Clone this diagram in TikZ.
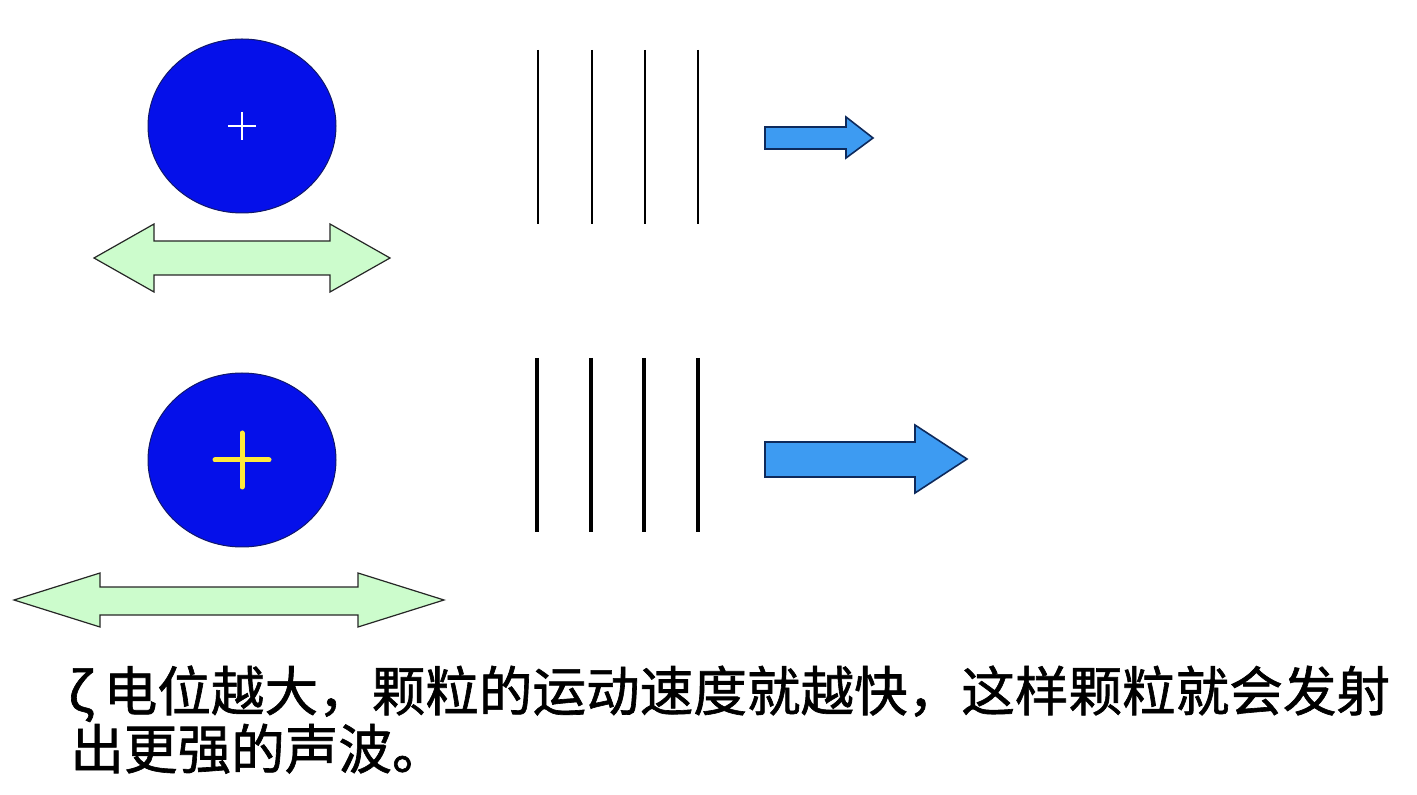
\documentclass[tikz,border=0pt]{standalone}
\usepackage{fontspec}
\usepackage{xcolor}
\usetikzlibrary{shapes.geometric}
\newfontfamily\cjk[FakeBold=1.2]{Noto Sans CJK SC}
\definecolor{pblue}{HTML}{0510EA}
\definecolor{pedge}{HTML}{10186A}
\definecolor{wblue}{HTML}{3D9BF2}
\definecolor{wedge}{HTML}{0E2A5C}
\definecolor{mgreen}{HTML}{CCFCCC}
\definecolor{pyellow}{HTML}{FFEA3A}

\begin{document}
\begin{tikzpicture}[x=0.5pt, y=-0.5pt,
  particle/.style={ellipse, draw=pedge, fill=pblue, line width=0.5pt, inner sep=0pt, minimum width=94pt, minimum height=87pt},
  motion/.style={draw=black!85, fill=mgreen, line width=0.6pt, line join=miter},
  wave/.style={draw=wedge, fill=wblue, line width=0.8pt, line join=miter},
  front/.style={black, line width=0.6pt},
  strong/.style={black, line width=2.4pt},
  caption/.style={anchor=base west, inner sep=0pt, font=\cjk\fontsize{26.8}{28}\selectfont},
]
  \useasboundingbox (0,0) rectangle (1417,795);

  % weak case
  \node[particle] (p1) at (242,126) {};
  \draw[white, line width=0.75pt] ([xshift=-7pt]p1.center) -- ([xshift=7pt]p1.center)
    ([yshift=-7pt]p1.center) -- ([yshift=7pt]p1.center);
  \draw[motion] (94,258) -- (154,224) -- (154,241) -- (330,241) -- (330,224) -- (390,258)
    -- (330,292) -- (330,275) -- (154,275) -- (154,292) -- cycle;
  \foreach \x in {538,592,645,698}
    \draw[front] (\x,50) -- (\x,224);
  \draw[wave] (765,127) -- (846,127) -- (846,117) -- (873,138) -- (846,158) -- (846,149) -- (765,149) -- cycle;

  % strong case
  \node[particle] (p2) at (242,460) {};
  \draw[pyellow, line width=2.5pt, line cap=round] ([xshift=-13.5pt]p2.center) -- ([xshift=13.5pt]p2.center)
    ([yshift=-13.5pt]p2.center) -- ([yshift=13.5pt]p2.center);
  \draw[motion] (14,600) -- (100,573) -- (100,587) -- (358,587) -- (358,573) -- (444,600)
    -- (358,627) -- (358,615) -- (100,615) -- (100,627) -- cycle;
  \foreach \x in {537,591,644,698}
    \draw[strong] (\x,358) -- (\x,532);
  \draw[wave] (765,442) -- (915,442) -- (915,425) -- (967,459) -- (915,493) -- (915,477) -- (765,477) -- cycle;

  \node[caption] (line1) at (68,711) {ζ\hspace{5pt}电位越大，颗粒的运动速度就越快，这样颗粒就会发射};
  \node[caption] (line2) at (70,769) {出更强的声波。};
\end{tikzpicture}
\end{document}
